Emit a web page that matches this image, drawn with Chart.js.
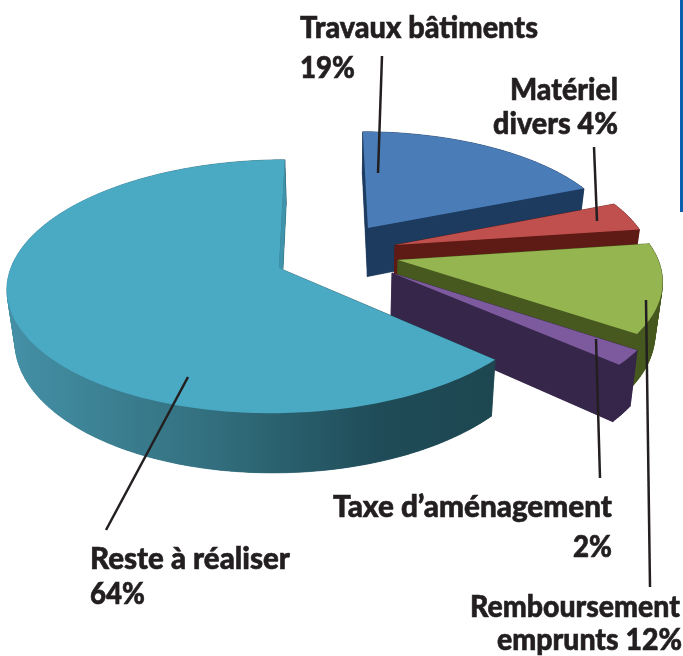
<!DOCTYPE html>
<html lang="fr">
<head>
<meta charset="utf-8">
<title>Répartition</title>
<style>
html,body{margin:0;padding:0;background:#fff;}
#wrap{position:relative;width:683px;height:656px;overflow:hidden;}
canvas{display:block;}
</style>
<script src="https://cdn.jsdelivr.net/npm/chart.js@4"></script>
</head>
<body>
<div id="wrap"><canvas id="c" width="683" height="656"></canvas></div>
<script>
const categories = ["Travaux bâtiments", "Matériel divers", "Remboursement emprunts", "Taxe d’aménagement", "Reste à réaliser"];
const values = [19, 4, 12, 2, 64];
const labelLines = [
  ["Travaux bâtiments", "19%"],
  ["Matériel", "divers 4%"],
  ["Remboursement", "emprunts 12%"],
  ["Taxe d’aménagement", "2%"],
  ["Reste à réaliser", "64%"]
];

/* styles */
const topColors = ["#4A7CB8", "#C0504D", "#95B551", "#7D5A9E", "#4AA9C3"];
const wallColors = ["#1C3B5E", "#5E1A14", "#47591F", "#36264A", null];
/* view: perspective plane projection */
const VIEW = {ax: 325, y0: 268, sx: 268, sy: 124, k: 0.146, depth: 51, nadirX: 345, taper: 0.024};
/* explode shift of each slice on the plane (in radius units) and its radius */
const SHIFT = [[0.168, -0.3385], [0.2684, -0.1906], [0.275, -0.0651], [0.2485, 0.0403], [-0.172, 0]];
const RADIUS = [0.97, 0.97, 0.98, 0.99, 1];
/* label layout */
const LABEL_STYLE = [
  {lines: [{x: 300, y: 38, w: 238, a: "left"}, {x: 300, y: 78, w: 55, a: "left"}], lead: [382, 56, 378, 173]},
  {lines: [{x: 618, y: 100, w: 108, a: "right"}, {x: 618, y: 134, w: 125, a: "right"}], lead: [594, 147, 597, 221]},
  {lines: [{x: 680, y: 617, w: 210, a: "right"}, {x: 682, y: 650, w: 185, a: "right"}], lead: [646, 300, 650, 587]},
  {lines: [{x: 612, y: 517, w: 279, a: "right"}, {x: 612, y: 557, w: 39, a: "right"}], lead: [596, 339, 600, 478]},
  {lines: [{x: 90, y: 569, w: 200, a: "left"}, {x: 90, y: 604, w: 55, a: "left"}], lead: [188, 377, 106, 530]}
];
const FONT = '900 30px Lato, "Liberation Sans", sans-serif';
const INK = "#231F20";

function project(wx, wv, t) {
  const s = 1 / (1 - VIEW.k * wv);
  let x = VIEW.ax + VIEW.sx * wx * s;
  let y = VIEW.y0 + VIEW.sy * wv * s;
  if (t) { y += VIEW.depth * t * s; x += (VIEW.nadirX - x) * VIEW.taper * t; }
  return [x, y];
}

/* outline on the plane of one library-computed arc: apex then rim */
function outline(arc, i) {
  const p = arc.getProps(["startAngle", "endAngle"], true);
  const n = Math.max(4, Math.ceil((p.endAngle - p.startAngle) / 0.02));
  const sh = SHIFT[i], r = RADIUS[i];
  const pts = [[sh[0], sh[1]]];
  for (let j = 0; j <= n; j++) {
    const a = p.startAngle + (p.endAngle - p.startAngle) * j / n + Math.PI / 2;
    pts.push([sh[0] + r * Math.sin(a), sh[1] - r * Math.cos(a)]);
  }
  return pts;
}

function fillPoly(ctx, pts, alsoStroke) {
  ctx.beginPath();
  pts.forEach((q, j) => j ? ctx.lineTo(q[0], q[1]) : ctx.moveTo(q[0], q[1]));
  ctx.closePath();
  ctx.fill();
  if (alsoStroke) ctx.stroke();
}

const pie3d = {
  id: "pie3d",
  beforeDatasetDraw() { return false; },
  afterDatasetsDraw(chart) {
    const ctx = chart.ctx;
    const arcs = chart.getDatasetMeta(0).data;
    const teal = ctx.createLinearGradient(10, 0, 500, 0);
    teal.addColorStop(0, "#4490A6");
    teal.addColorStop(0.4, "#33707F");
    teal.addColorStop(0.75, "#1F4C58");
    teal.addColorStop(1, "#1D4650");
    ctx.save();
    ctx.lineWidth = 0.6;
    arcs.forEach((arc, i) => {
      const pts = outline(arc, i);
      const low = pts.map(q => project(q[0], q[1], 1));
      const high = pts.map(q => project(q[0], q[1], 0));
      const wall = wallColors[i] || teal;
      ctx.fillStyle = wall;
      ctx.strokeStyle = wall;
      fillPoly(ctx, low, false);
      for (let j = 0; j < pts.length; j++) {
        const k = (j + 1) % pts.length;
        fillPoly(ctx, [low[j], low[k], high[k], high[j]], true);
      }
      if (!wallColors[i]) {
        /* the back cut of the large slice catches the light */
        ctx.fillStyle = "#3F93AB";
        const m = pts.length - 1;
        fillPoly(ctx, [high[0], high[m], low[m], low[0]], false);
      }
      ctx.fillStyle = arc.options.backgroundColor;
      fillPoly(ctx, high, false);
    });
    ctx.restore();
  },
  afterDraw(chart) {
    const ctx = chart.ctx;
    ctx.save();
    ctx.strokeStyle = INK;
    ctx.fillStyle = INK;
    ctx.font = FONT;
    ctx.textBaseline = "alphabetic";
    LABEL_STYLE.forEach((st, i) => {
      ctx.lineWidth = 2.5;
      ctx.beginPath();
      ctx.moveTo(st.lead[0], st.lead[1]);
      ctx.lineTo(st.lead[2], st.lead[3]);
      ctx.stroke();
      ctx.lineWidth = 0.6;
      st.lines.forEach((ln, j) => {
        ctx.textAlign = ln.a;
        ctx.fillText(labelLines[i][j], ln.x, ln.y, ln.w);
        ctx.strokeText(labelLines[i][j], ln.x, ln.y, ln.w);
      });
    });
    ctx.fillStyle = "#0A5FB0";
    ctx.fillRect(680, 0, 3, 212);
    ctx.restore();
  }
};

new Chart(document.getElementById("c"), {
  type: "pie",
  data: {labels: categories, datasets: [{data: values, backgroundColor: topColors, borderWidth: 0}]},
  options: {
    responsive: false,
    animation: false,
    rotation: 0,
    plugins: {legend: {display: false}, tooltip: {enabled: false}}
  },
  plugins: [pie3d]
});
</script>
</body>
</html>
